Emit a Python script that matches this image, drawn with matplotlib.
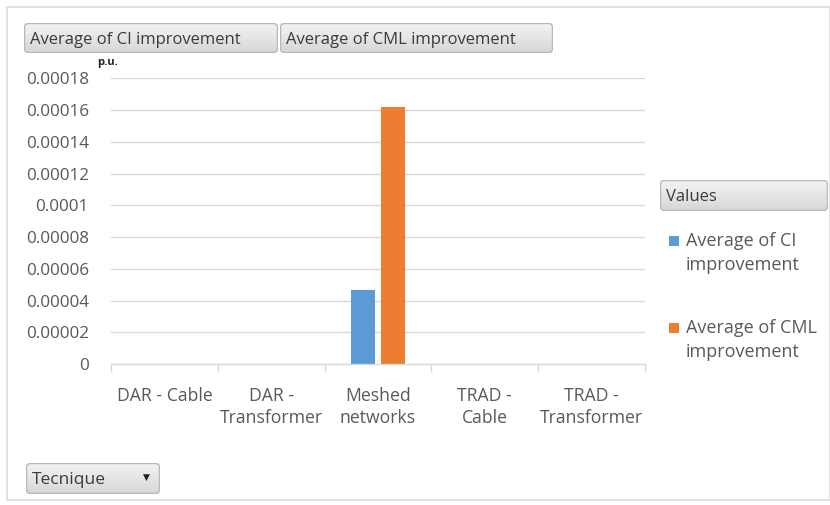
import matplotlib
matplotlib.use("Agg")
import matplotlib.pyplot as plt
from matplotlib.patches import FancyBboxPatch, Rectangle
import numpy as np

categories = ["DAR - Cable", "DAR -\nTransformer", "Meshed\nnetworks", "TRAD -\nCable", "TRAD -\nTransformer"]
ci_values = [0, 0, 0.0000467, 0, 0]
cml_values = [0, 0, 0.0001616, 0, 0]
series_names = ["Average of CI improvement", "Average of CML improvement"]
legend_labels = ["Average of CI\nimprovement", "Average of CML\nimprovement"]
yticks = [0, 0.00002, 0.00004, 0.00006, 0.00008, 0.0001, 0.00012, 0.00014, 0.00016, 0.00018]
ytick_labels = ["0", "0.00002", "0.00004", "0.00006", "0.00008", "0.0001", "0.00012", "0.00014", "0.00016", "0.00018"]

plt.rcParams['font.family'] = ['Open Sans', 'DejaVu Sans']

W, H = 830, 505
fig = plt.figure(figsize=(W / 100, H / 100), dpi=100)
BLUE = "#5B9BD5"
ORANGE = "#ED7D31"
TXT = "#595959"
BTXT = "#403a36"

def fx(x):
    return x / W

def fy(y):
    return 1 - y / H

ax = fig.add_axes([fx(111), fy(364.3), fx(645) - fx(111), fy(78.1) - fy(364.3)])
x = np.arange(len(categories))
bw = 0.222
off = 0.143
ax.bar(x - off, ci_values, width=bw, color=BLUE, zorder=3)
ax.bar(x + off, cml_values, width=bw, color=ORANGE, zorder=3)
ax.set_xlim(-0.5, len(categories) - 0.5)
ax.set_ylim(0, 0.00018)
ax.set_yticks(yticks)
ax.set_yticklabels(ytick_labels)
ax.yaxis.grid(True, color="#d9d9d9", linewidth=1.0, zorder=0)
ax.set_axisbelow(True)
for s in ["top", "right", "left"]:
    ax.spines[s].set_visible(False)
ax.spines["bottom"].set_color("#d9d9d9")
ax.spines["bottom"].set_linewidth(1.0)
ax.spines["bottom"].set_zorder(4)
ax.tick_params(axis="y", length=0, labelsize=12.3, labelcolor=TXT, pad=16)
ax.set_xticks(x)
ax.set_xticklabels(categories)
ax.tick_params(axis="x", which="major", length=0, labelsize=12.7, labelcolor=TXT, pad=16)
ax.set_xticks(np.arange(-0.5, len(categories), 1.0), minor=True)
ax.tick_params(axis="x", which="minor", length=6, color="#d9d9d9", width=1.0)
for lbl in ax.get_xticklabels():
    lbl.set_linespacing(1.3)

# outer frame
fig.patches.append(Rectangle((fx(7), fy(500)), fx(830) - fx(7), fy(7) - fy(500),
                             transform=fig.transFigure, fill=False,
                             edgecolor="#dcdcdc", linewidth=1.2))

grad = np.linspace(0.955, 0.84, 64).reshape(-1, 1)
grad = np.dstack([grad, grad, grad])

def button(x0, y0, x1, y1, label, size=12, arrow=False):
    bax = fig.add_axes([fx(x0), fy(y1), fx(x1) - fx(x0), fy(y0) - fy(y1)])
    bax.set_axis_off()
    bax.set_xlim(0, x1 - x0)
    bax.set_ylim(0, y1 - y0)
    patch = FancyBboxPatch((0.5, 0.5), x1 - x0 - 1, y1 - y0 - 1,
                           boxstyle="round,pad=0,rounding_size=4",
                           facecolor="none", edgecolor="#b8b8b8", linewidth=1.0,
                           transform=bax.transData, zorder=3)
    im = bax.imshow(grad, extent=[0, x1 - x0, 0, y1 - y0], aspect="auto", zorder=1)
    bax.add_patch(patch)
    im.set_clip_path(patch)
    bax.text(6, (y1 - y0) / 2 - 2, label, fontsize=size, color=BTXT, ha="left", va="center", zorder=4)
    if arrow:
        bax.text(x1 - x0 - 14, (y1 - y0) / 2 + 1, "\u25BC", fontsize=6.5, color="#222222",
                 ha="center", va="center", family="DejaVu Sans", zorder=4)

button(24, 23, 278, 53, series_names[0], size=12)
button(280, 23, 553, 53, series_names[1], size=12)
button(660, 180, 828, 211, "Values", size=12)
button(26, 463, 160, 494, "Tecnique", size=12.5, arrow=True)

fig.text(fx(97), fy(63), "p.u.", fontsize=8, fontweight="bold", color="#222222",
         ha="left", va="center")

# legend
for i, (lab, col, yc) in enumerate(zip(legend_labels, [BLUE, ORANGE], [241, 328])):
    fig.patches.append(Rectangle((fx(669), fy(yc + 5)), fx(679) - fx(669), fy(yc - 5) - fy(yc + 5),
                                 transform=fig.transFigure, facecolor=col, edgecolor="none"))
    fig.text(fx(686), fy(yc - 9), lab, fontsize=13, color=TXT, ha="left", va="top",
             linespacing=1.45)

fig.savefig("out.png", dpi=100)
